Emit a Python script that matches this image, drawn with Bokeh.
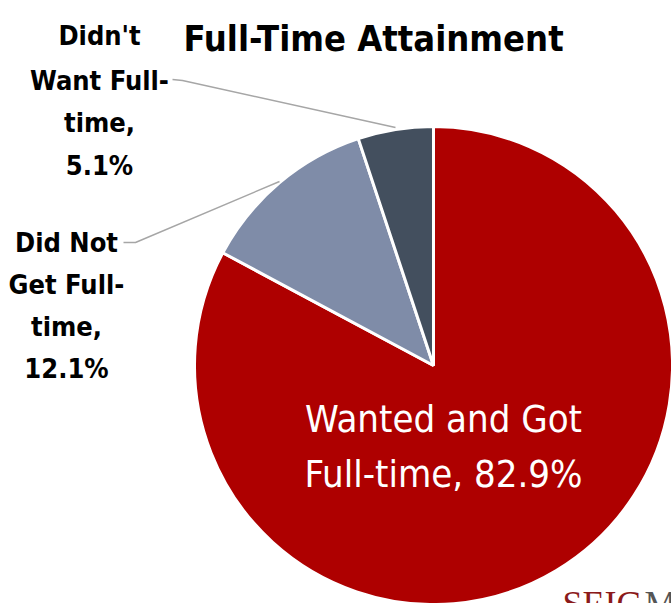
import math
from bokeh.plotting import figure
from bokeh.models import ColumnDataSource, Range1d
from bokeh.core.properties import value
from bokeh.embed import file_html
from bokeh.resources import INLINE

# Data
categories = ["Wanted and Got Full-time", "Did Not Get Full-time", "Didn't Want Full-time"]
shares = [82.9, 12.1, 5.1]
colors = ["#AE0000", "#7F8CA8", "#434F5E"]
title_text = "Full-Time Attainment"

W, H = 671, 603
FONT = "'DejaVu Sans Condensed', 'Roboto Condensed', 'Liberation Sans Narrow', Roboto, sans-serif"

def Y(py):
    return H - py

p = figure(width=W, height=H, output_backend="svg", toolbar_location=None,
           x_range=Range1d(0, W), y_range=Range1d(0, H), min_border=0)
p.axis.visible = False
p.grid.visible = False
p.outline_line_color = None
p.background_fill_color = "white"
p.border_fill_color = "white"

# Pie: clockwise from 12 o'clock
cx, cy, r = 433, Y(365), 239
total = sum(shares)
starts, ends = [], []
a = math.pi / 2
for s in shares:
    starts.append(a)
    a = a - 2 * math.pi * s / total
    ends.append(a)
src = ColumnDataSource(dict(start=starts, end=ends, color=colors, cat=categories))
p.wedge(x=cx, y=cy, radius=r, start_angle="start", end_angle="end", direction="clock",
        fill_color="color", line_color="white", line_width=3, source=src)

# Leader lines
p.line([172, 182, 395], [Y(79), Y(80), Y(127)], line_color="#A6A6A6", line_width=1.5)
p.line([123, 135, 279], [Y(242), Y(242), Y(181)], line_color="#A6A6A6", line_width=1.5)

# Title
p.text(x=[373], y=[Y(38)], text=[title_text], text_font=value(FONT), text_font_style="bold",
       text_font_size="36px", text_align="center", text_baseline="alphabetic", text_color="black")

# Outside labels
lab1 = ["Didn't", "Want Full-", "time,", "%.1f%%" % shares[2]]
lab1_y = [35, 80, 122, 165]
p.text(x=[99] * 4, y=[Y(v) for v in lab1_y], text=lab1, text_font=value(FONT),
       text_font_style="bold", text_font_size="27px", text_align="center",
       text_baseline="alphabetic", text_color="black")

lab2 = ["Did Not", "Get Full-", "time,", "%.1f%%" % shares[1]]
lab2_y = [242, 284, 326, 368]
p.text(x=[66] * 4, y=[Y(v) for v in lab2_y], text=lab2, text_font=value(FONT),
       text_font_style="bold", text_font_size="27px", text_align="center",
       text_baseline="alphabetic", text_color="black")

# Inside label
lab3 = ["Wanted and Got", "Full-time, %.1f%%" % shares[0]]
p.text(x=[443, 443], y=[Y(418), Y(473)], text=lab3, text_font=value(FONT),
       text_font_size="38px", text_align="center", text_baseline="alphabetic", text_color="white")

# Logo fragment at bottom-right (cut off by the page edge, as in the original)
p.text(x=[562], y=[Y(583)], text=["SEIG"], text_font=value("Liberation Serif"),
       text_font_size="36px", text_align="left", text_baseline="top", text_color="#8B1A1A")
p.text(x=[644], y=[Y(583)], text=["M"], text_font=value("Liberation Serif"),
       text_font_size="36px", text_align="left", text_baseline="top", text_color="#555555")

open("out.html", "w").write(file_html(p, INLINE))
